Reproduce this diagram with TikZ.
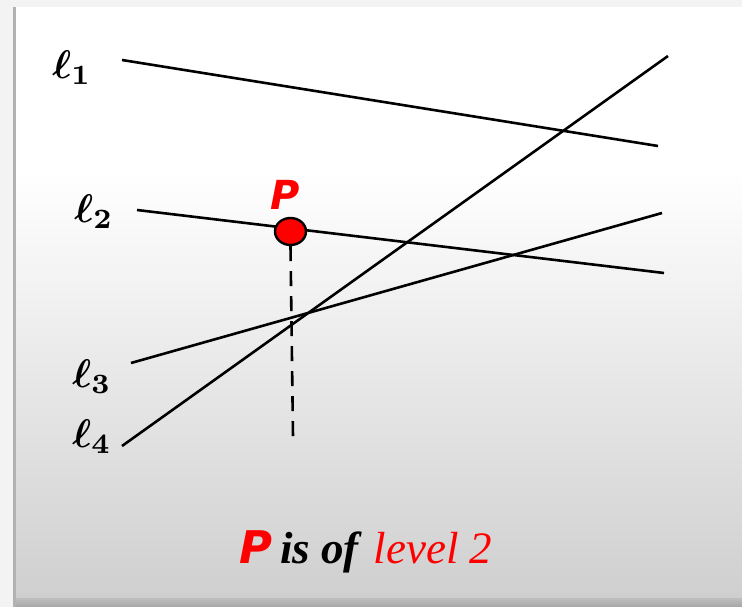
\documentclass[tikz,border=0pt]{standalone}
\usepackage{amsmath}
\usepackage{fontspec}
\setmainfont{Liberation Serif}
\newfontfamily\pfont{DejaVu Sans}
\usetikzlibrary{shapes.geometric}
\definecolor{outer}{HTML}{F3F3F3}
\definecolor{botgray}{HTML}{CFCFCF}
\definecolor{pred}{HTML}{FF0000}
\newcommand{\biglab}[1]{\scalebox{4}{\boldmath$\ell_{#1}$}}
\tikzset{
  ln/.style={line width=2.6pt, black},
  lab/.style={inner sep=0pt},
  pt/.style={ellipse, draw=black, line width=2.4pt, fill=pred, minimum width=31pt, minimum height=27pt, inner sep=0pt},
}
\begin{document}
\begin{tikzpicture}[x=1pt,y=-1pt]
\useasboundingbox (0,0) rectangle (742,607);
\fill[outer] (0,0) rectangle (742,607);
\fill[white] (14,7) rectangle (742,170);
\shade[top color=white, bottom color=botgray] (14,170) rectangle (742,598);
\shade[top color=botgray!92!black, bottom color=botgray!80!black] (14,598) rectangle (742,607);
\fill[gray!60] (13,7) rectangle (16,607);
% lines
\coordinate (a1) at (122,60); \coordinate (b1) at (658,146);
\coordinate (a2) at (137,210); \coordinate (b2) at (664,273);
\coordinate (a3) at (131,363); \coordinate (b3) at (662,213);
\coordinate (a4) at (122,446); \coordinate (b4) at (668,56);
\draw[ln] (a1) -- (b1);
\draw[ln] (a2) -- (b2);
\draw[ln] (a3) -- (b3);
\draw[ln] (a4) -- (b4);
\node[lab] (l1) at (72,68) {\biglab{1}};
\node[lab] (l2) at (94,212) {\biglab{2}};
\node[lab] (l3) at (92,377) {\biglab{3}};
\node[lab] (l4) at (92,437) {\biglab{4}};
\node[pt] (P) at (290.5,231.5) {};
\coordinate (d) at (293,437);
\draw[line width=2.6pt, dash pattern=on 15pt off 10pt] (P.south) -- (d);
\node[font=\pfont\bfseries\itshape\fontsize{40}{40}\selectfont, text=pred, inner sep=0pt] (Pl) at (285,195) {P};
\node[inner sep=0pt, anchor=base] (cap) at (366,563) {\fontsize{45}{45}\selectfont{\pfont\bfseries\itshape\color{pred}P}\,\textbf{\textit{is of}} \textcolor{pred}{\textit{level 2}}};
\end{tikzpicture}
\end{document}
